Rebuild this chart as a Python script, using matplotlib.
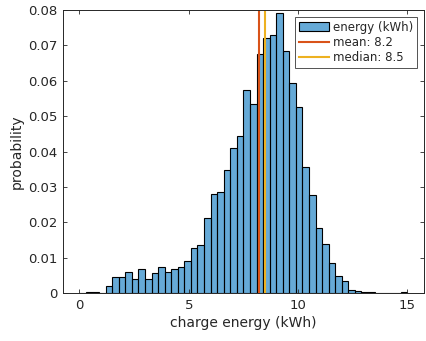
import matplotlib
matplotlib.use("Agg")
import matplotlib.pyplot as plt
import numpy as np

# histogram bins (kWh), width 0.3, from 0 to 15
bin_edges = [round(0.3 * i, 1) for i in range(51)]
probabilities = [
    0.0, 0.0003, 0.0003, 0.0, 0.0021, 0.0046, 0.0046, 0.0059, 0.0040, 0.0069,
    0.0040, 0.0056, 0.0075, 0.0061, 0.0068, 0.0075, 0.0091, 0.0127, 0.0136, 0.0212,
    0.0280, 0.0287, 0.0348, 0.0410, 0.0444, 0.0574, 0.0534, 0.0675, 0.0722, 0.0730,
    0.0791, 0.0683, 0.0593, 0.0525, 0.0356, 0.0278, 0.0184, 0.0138, 0.0085, 0.0050,
    0.0035, 0.0009, 0.0006, 0.0003, 0.0003, 0.0, 0.0, 0.0, 0.0, 0.0003,
]
mean_energy = 8.2
median_energy = 8.5

text_col = "#262626"
plt.rcParams["font.family"] = "DejaVu Sans"

fig = plt.figure(figsize=(4.27, 3.41), dpi=100)
ax = fig.add_axes([0.1475, 0.140, 0.845, 0.831])

centers = [(a + b) / 2 for a, b in zip(bin_edges[:-1], bin_edges[1:])]
ax.hist(
    centers,
    bins=bin_edges,
    weights=probabilities,
    facecolor=(0.0, 0.447, 0.741, 0.6),
    edgecolor="black",
    linewidth=0.8,
    label="energy (kWh)",
)
ax.axvline(mean_energy, color="#D95319", linewidth=1.5, label=f"mean: {mean_energy}")
ax.axvline(median_energy, color="#EDB120", linewidth=1.5, label=f"median: {median_energy}")

ax.set_xlim(-0.75, 15.75)
ax.set_ylim(0, 0.08)
ax.set_xticks([0, 5, 10, 15])
ax.set_yticks(np.arange(0, 0.081, 0.01))
ax.set_yticklabels(["0"] + [f"{v:.2f}" for v in np.arange(0.01, 0.081, 0.01)])

ax.tick_params(direction="in", length=3, width=0.6, top=True, right=True,
               labelsize=9.5, colors=text_col, pad=4)
for s in ax.spines.values():
    s.set_color(text_col)
    s.set_linewidth(0.7)

ax.set_xlabel("charge energy (kWh)", fontsize=10, color=text_col, labelpad=3)
ax.set_ylabel("probability", fontsize=10, color=text_col, labelpad=3)

leg = ax.legend(loc="upper right", fontsize=8.5, frameon=True, fancybox=False,
                edgecolor=text_col, borderpad=0.3, labelspacing=0.2,
                handlelength=2.6, handletextpad=0.3, borderaxespad=0.6)
leg.get_frame().set_linewidth(0.7)
for t in leg.get_texts():
    t.set_color(text_col)

fig.savefig("out.png", dpi=100)
